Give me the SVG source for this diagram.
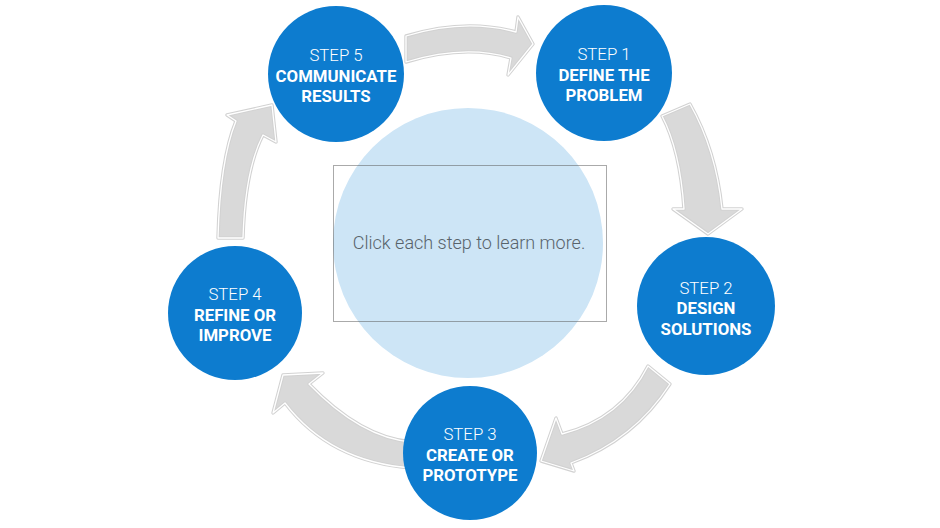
<svg xmlns="http://www.w3.org/2000/svg" xmlns:xlink="http://www.w3.org/1999/xlink" width="940" height="528" viewBox="0 0 940 528">
<style>
.bg{fill:#ffffff}
.arr-base{fill:#d9d9d9;stroke:#d2d2d2;stroke-width:3.4;stroke-linejoin:round}
.arr-hl{fill:none;stroke:#ffffff;stroke-width:1.3;stroke-linejoin:round}
.step{fill:#0d7ccf}
.hub{fill:#cde5f6}
.frame{fill:none;stroke:#555;stroke-width:1;stroke-dasharray:1 1}
.lbl{font-family:Roboto,"Liberation Sans",sans-serif;font-size:16.8px;fill:#ffffff;text-anchor:middle}
.lt{font-weight:300}
.bd{font-weight:700}
.hint{font-family:Roboto,"Liberation Sans",sans-serif;font-weight:300;font-size:18px;fill:#58636b;text-anchor:middle}
</style>
<defs>
<path id="a1" d="M 406 36 Q 465 18 516 32 L 518 17 L 533 44 L 508 75 L 511 58 Q 465 44 406 62 Z"/>
<path id="a2" d="M 690 104 Q 716 150 722 209 L 742 209 L 708 234 L 673 209 L 684 209 Q 680 150 662 116 Z"/>
<path id="a3" d="M 648 366 Q 621 419 562 434 L 556 418 L 541 461 L 574 471 L 571 463 Q 634 440 670 384 Z"/>
<path id="a4" d="M 412 442 Q 361 438 309 384 L 323 373 L 283 375 L 273 413 L 285 403 Q 330 462 412 468 Z"/>
<path id="a5" d="M 218 238 Q 220 160 236 121 L 227 115 L 272 105 L 276 142 L 263 135 Q 245 170 243 238 Z"/>
</defs>
<rect class="bg" x="0" y="0" width="940" height="528"/>
<g id="connectors">
<use class="arr-base" xlink:href="#a1"/><use class="arr-hl" xlink:href="#a1"/>
<use class="arr-base" xlink:href="#a2"/><use class="arr-hl" xlink:href="#a2"/>
<use class="arr-base" xlink:href="#a3"/><use class="arr-hl" xlink:href="#a3"/>
<use class="arr-base" xlink:href="#a4"/><use class="arr-hl" xlink:href="#a4"/>
<use class="arr-base" xlink:href="#a5"/><use class="arr-hl" xlink:href="#a5"/>
</g>
<g id="hub">
<circle class="hub" cx="468" cy="243" r="135"/>
<rect class="frame" x="333.5" y="165.5" width="273" height="156"/>
<text class="hint" x="469" y="249">Click each step to learn more.</text>
</g>
<g id="step5">
<circle class="step" cx="336" cy="74" r="68"/>
<text class="lbl lt" x="336" y="61">STEP 5</text>
<text class="lbl bd" x="336" y="81.5">COMMUNICATE</text>
<text class="lbl bd" x="336" y="102">RESULTS</text>
</g>
<g id="step1">
<circle class="step" cx="604" cy="73" r="68"/>
<text class="lbl lt" x="604" y="60">STEP 1</text>
<text class="lbl bd" x="604" y="80.5">DEFINE THE</text>
<text class="lbl bd" x="604" y="101">PROBLEM</text>
</g>
<g id="step2">
<circle class="step" cx="706" cy="306" r="69"/>
<text class="lbl lt" x="706" y="294">STEP 2</text>
<text class="lbl bd" x="706" y="314">DESIGN</text>
<text class="lbl bd" x="706" y="334.5">SOLUTIONS</text>
</g>
<g id="step3">
<circle class="step" cx="470" cy="453" r="67"/>
<text class="lbl lt" x="470" y="440">STEP 3</text>
<text class="lbl bd" x="470" y="460.5">CREATE OR</text>
<text class="lbl bd" x="470" y="481">PROTOTYPE</text>
</g>
<g id="step4">
<circle class="step" cx="235" cy="313" r="67"/>
<text class="lbl lt" x="235" y="300">STEP 4</text>
<text class="lbl bd" x="235" y="320.5">REFINE OR</text>
<text class="lbl bd" x="235" y="341">IMPROVE</text>
</g>
</svg>
